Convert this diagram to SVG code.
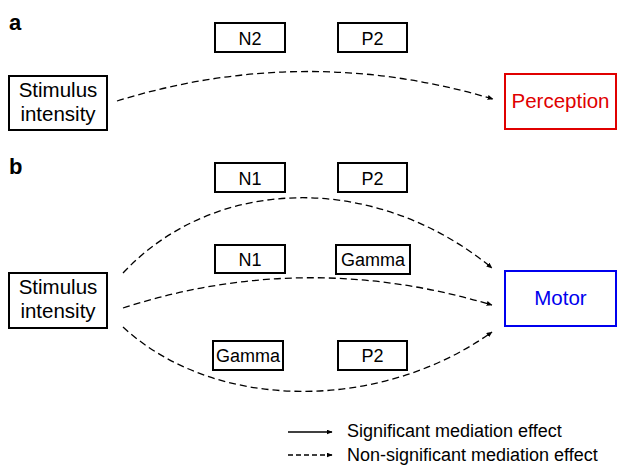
<svg xmlns="http://www.w3.org/2000/svg" width="618" height="468" viewBox="0 0 618 468">
<style>
text{font-family:"Liberation Sans",Arial,sans-serif;fill:#000}
.box{fill:#fff;stroke:#000;stroke-width:2}
.sm{font-size:18px;text-anchor:middle}
.lg{font-size:20.5px;text-anchor:middle}
.lab{font-size:22px;font-weight:bold}
.leg{font-size:18px}
.dash{fill:none;stroke:#000;stroke-width:1.3;stroke-dasharray:7 4;marker-end:url(#ah)}
.solid{fill:none;stroke:#000;stroke-width:1.5;marker-end:url(#ah)}
</style>
<defs>
<marker id="ah" viewBox="0 0 10 10" refX="9" refY="5" markerWidth="6" markerHeight="5" markerUnits="userSpaceOnUse" orient="auto" preserveAspectRatio="none">
<path d="M0,0 L10,5 L0,10 Z" fill="#000"/>
</marker>
</defs>
<text class="lab" x="9" y="30">a</text>
<text class="lab" x="9" y="174">b</text>
<g id="a-n2"><rect class="box" x="215" y="23" width="70" height="29"/><text class="sm" x="250" y="44.5">N2</text></g>
<g id="a-p2"><rect class="box" x="338" y="23" width="69" height="29"/><text class="sm" x="372.5" y="44.5">P2</text></g>
<g id="a-stim"><rect class="box" x="9" y="76" width="98" height="54"/><text class="lg" x="58" y="97">Stimulus</text><text class="lg" x="58" y="121">intensity</text></g>
<g id="a-perception"><rect x="505" y="74" width="111" height="55" fill="#fff" stroke="#e00000" stroke-width="2"/><text class="lg" x="560.5" y="108" style="fill:#e00000">Perception</text></g>
<g id="b-n1-top"><rect class="box" x="215" y="163" width="70" height="29"/><text class="sm" x="250" y="184.5">N1</text></g>
<g id="b-p2-top"><rect class="box" x="338" y="163" width="69" height="29"/><text class="sm" x="372.5" y="184.5">P2</text></g>
<g id="b-n1-mid"><rect class="box" x="215" y="245" width="70" height="28"/><text class="sm" x="250" y="266">N1</text></g>
<g id="b-gamma-mid"><rect class="box" x="336" y="245" width="74" height="29"/><text class="sm" x="373" y="266">Gamma</text></g>
<g id="b-gamma-bot"><rect class="box" x="213" y="341" width="70" height="29"/><text class="sm" x="248" y="362">Gamma</text></g>
<g id="b-p2-bot"><rect class="box" x="338" y="341" width="69" height="29"/><text class="sm" x="372.5" y="362">P2</text></g>
<g id="b-stim"><rect class="box" x="9" y="273" width="98" height="55"/><text class="lg" x="58" y="294">Stimulus</text><text class="lg" x="58" y="318">intensity</text></g>
<g id="b-motor"><rect x="505" y="271" width="111" height="55" fill="#fff" stroke="#0000ee" stroke-width="2"/><text class="lg" x="560.5" y="305" style="fill:#0000ee">Motor</text></g>
<g id="connectors">
<path class="dash" d="M117,101 Q305,43 493,99"/>
<path class="dash" d="M123,273 C215,175 375,172 492,268"/>
<path class="dash" d="M123,308 Q305,249 492,305"/>
<path class="dash" d="M123,327 C215,412 380,412 492,332"/>
</g>
<g id="legend">
<line class="solid" x1="288" y1="432" x2="332" y2="432"/>
<text class="leg" x="347" y="437">Significant mediation effect</text>
<line class="dash" x1="288" y1="455" x2="332" y2="455" style="stroke-dasharray:5 3"/>
<text class="leg" x="347" y="461">Non-significant mediation effect</text>
</g>
</svg>
